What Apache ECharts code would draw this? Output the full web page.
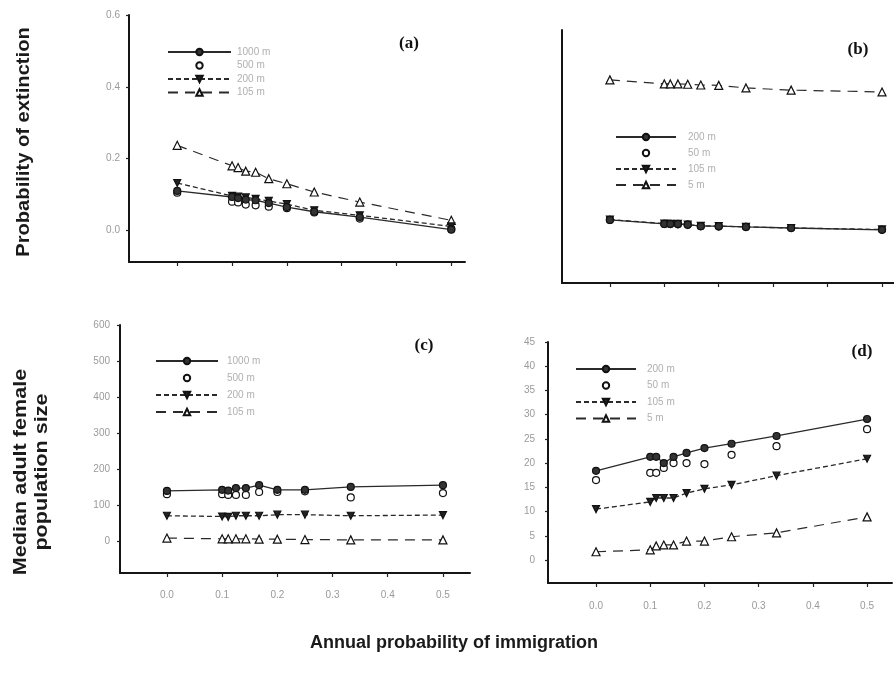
<!DOCTYPE html>
<html>
<head>
<meta charset="utf-8">
<script src="https://cdn.jsdelivr.net/npm/echarts@6/dist/echarts.min.js"></script>
<style>html,body{margin:0;padding:0;background:#fff}#c{width:894px;height:676px}</style>
</head>
<body>
<div id="c"></div>
<script>
// immigration probabilities (x)
const xVals = [0, 0.1, 0.111, 0.125, 0.143, 0.167, 0.2, 0.25, 0.333, 0.5];
const xTicks = [0, 0.1, 0.2, 0.3, 0.4, 0.5];

// (a) probability of extinction
const a1000 = [0.110, 0.093, 0.090, 0.086, 0.084, 0.076, 0.065, 0.052, 0.037, 0.002];
const a500  = [0.105, 0.080, 0.078, 0.072, 0.070, 0.066, 0.062, 0.050, 0.033, 0.004];
const a200  = [0.132, 0.096, 0.094, 0.092, 0.088, 0.082, 0.073, 0.056, 0.042, 0.011];
const a105  = [0.237, 0.180, 0.175, 0.165, 0.162, 0.144, 0.130, 0.107, 0.079, 0.028];
const aTicks = [0, 0.2, 0.4, 0.6];

// (b) probability of extinction
const b200 = [0.082, 0.071, 0.071, 0.071, 0.069, 0.065, 0.065, 0.063, 0.060, 0.055];
const b50  = [0.082, 0.071, 0.071, 0.070, 0.069, 0.065, 0.064, 0.063, 0.060, 0.055];
const b105 = [0.083, 0.072, 0.071, 0.071, 0.069, 0.066, 0.065, 0.063, 0.060, 0.056];
const b5   = [0.464, 0.453, 0.453, 0.453, 0.452, 0.450, 0.449, 0.442, 0.436, 0.431];

// (c) median adult female population size
const c1000 = [139, 142, 140, 147, 147, 155, 142, 142, 150, 155];
const c500  = [130, 130, 128, 128, 128, 136, 136, 138, 121, 133];
const c200  = [70, 68, 67, 70, 70, 70, 73, 73, 70, 72];
const c105  = [8, 6, 6, 6, 6, 5, 5, 4, 3, 3];
const cTicks = [0, 100, 200, 300, 400, 500, 600];

// (d) median adult female population size
const d200 = [18.4, 21.3, 21.3, 20.0, 21.3, 22.1, 23.1, 24.0, 25.6, 29.1];
const d50  = [16.5, 18.0, 18.0, 19.0, 20.0, 20.0, 19.8, 21.7, 23.5, 27.0];
const d105 = [10.5, 12.0, 12.8, 12.8, 12.8, 13.8, 14.7, 15.5, 17.4, 20.9];
const d5   = [1.7, 2.1, 2.9, 3.1, 3.1, 3.9, 3.9, 4.8, 5.6, 8.9];
const dTicks = [0, 5, 10, 15, 20, 25, 30, 35, 40, 45];

const namesAC = ['1000 m', '500 m', '200 m', '105 m'];
const namesBD = ['200 m', '50 m', '105 m', '5 m'];

const TRI_DOWN = 'path://M0,0L10,0L5,9Z';
const styles = [
  {symbol: 'circle', fill: '#333', line: 'solid', lw: 1.3},
  {symbol: 'circle', fill: '#fff', line: 'none', lw: 0},
  {symbol: TRI_DOWN, fill: '#222', line: [5, 3], lw: 1.3},
  {symbol: 'triangle', fill: '#fff', line: [10, 7], lw: 1.2}
];

const panels = [
  {id: 'a', data: [a1000, a500, a200, a105], names: namesAC},
  {id: 'b', data: [b200, b50, b105, b5], names: namesBD},
  {id: 'c', data: [c1000, c500, c200, c105], names: namesAC},
  {id: 'd', data: [d200, d50, d105, d5], names: namesBD}
];

const grids = [
  {left: 129, top: 15, width: 336, height: 247},
  {left: 562, top: 30, width: 332, height: 253},
  {left: 120, top: 325, width: 350, height: 248},
  {left: 548, top: 342, width: 344, height: 241}
];

const axisLineStyle = {color: '#151515', width: 2};
const labelStyle = {color: '#9a9a9a', fontSize: 10, fontFamily: 'Liberation Sans'};

const xAxes = [
  {min: -0.088, max: 0.525, showLabel: false, margin: 16},
  {min: -0.088, max: 0.522, showLabel: false, margin: 16},
  {min: -0.085, max: 0.549, showLabel: true, margin: 17},
  {min: -0.0886, max: 0.546, showLabel: true, margin: 18}
].map((o, i) => ({
  type: 'value', gridIndex: i, min: o.min, max: o.max,
  splitLine: {show: false},
  axisLine: {show: true, onZero: false, lineStyle: axisLineStyle},
  axisTick: {show: true, length: 4, lineStyle: {color: '#222', width: 1.2}, customValues: xTicks},
  axisLabel: Object.assign({show: o.showLabel, margin: o.margin, customValues: xTicks,
    formatter: v => v.toFixed(1)}, labelStyle)
}));

const yAxes = [
  {min: -0.088, max: 0.6, ticks: aTicks, show: true, fmt: v => v.toFixed(1), margin: 9},
  {min: -0.09, max: 0.6, ticks: aTicks, show: false, fmt: v => v.toFixed(1), margin: 9},
  {min: -89, max: 600, ticks: cTicks, show: true, fmt: v => String(v), margin: 10},
  {min: -4.75, max: 45, ticks: dTicks, show: true, fmt: v => String(v), margin: 13}
].map((o, i) => ({
  type: 'value', gridIndex: i, min: o.min, max: o.max,
  splitLine: {show: false},
  axisLine: {show: true, onZero: false, lineStyle: axisLineStyle},
  axisTick: {show: o.show, length: 3, lineStyle: {color: '#222', width: 1.2}, customValues: o.ticks},
  axisLabel: Object.assign({show: o.show, margin: o.margin, customValues: o.ticks, formatter: o.fmt}, labelStyle)
}));

const series = [];
const legends = [];
const labelMap = {};
const legendPos = [
  {left: 162, top: 41, gap: 1.5, w: 63, pad: 1},
  {left: 610, top: 126, gap: 4, w: 60, pad: 7},
  {left: 150, top: 350, gap: 5, w: 62, pad: 4},
  {left: 570, top: 358, gap: 4.5, w: 60, pad: 6}
];
panels.forEach((p, i) => {
  const legendData = [];
  p.data.forEach((vals, k) => {
    const st = styles[k];
    const key = p.id + k;
    labelMap[key] = p.names[k];
    legendData.push(key);
    series.push({
      name: key, type: 'line', xAxisIndex: i, yAxisIndex: i,
      data: xVals.map((x, j) => [x, vals[j]]),
      symbol: st.symbol, symbolSize: k === 3 ? 8 : 7, showAllSymbol: true,
      itemStyle: {color: st.fill, borderColor: '#111', borderWidth: 1.2},
      lineStyle: st.line === 'none' ? {width: 0, opacity: 0} :
        {color: '#2a2a2a', width: st.lw, type: st.line},
      z: 5 - k
    });
  });
  const lp = legendPos[i];
  legends.push({
    data: legendData, orient: 'vertical', left: lp.left, top: lp.top,
    itemWidth: lp.w, itemHeight: 8, itemGap: lp.gap, selectedMode: false,
    formatter: n => labelMap[n],
    textStyle: {color: '#b0b0b0', fontSize: 10, fontFamily: 'Liberation Sans', padding: [0, 0, 0, lp.pad], lineHeight: 12}
  });
});

const yTitleFont = 'bold 18px "Liberation Sans", Arial, sans-serif';
const graphics = [
  {type: 'text', rotation: Math.PI / 2, position: [24, 142], scaleX: 1.12,
   style: {text: 'Probability of extinction', font: yTitleFont, fill: '#1a1a1a', textAlign: 'center', textVerticalAlign: 'middle'}},
  {type: 'text', rotation: Math.PI / 2, position: [21, 472], scaleX: 1.2,
   style: {text: 'Median adult female', font: yTitleFont, fill: '#1a1a1a', textAlign: 'center', textVerticalAlign: 'middle'}},
  {type: 'text', rotation: Math.PI / 2, position: [42, 472], scaleX: 1.2,
   style: {text: 'population size', font: yTitleFont, fill: '#1a1a1a', textAlign: 'center', textVerticalAlign: 'middle'}},
  {type: 'text', position: [454, 643],
   style: {text: 'Annual probability of immigration', font: 'bold 18px "Liberation Sans", Arial, sans-serif', fill: '#1a1a1a', textAlign: 'center', textVerticalAlign: 'middle'}},
  {type: 'text', position: [409, 44], style: {text: '(a)', font: 'bold 17px "Liberation Serif", serif', fill: '#111', textAlign: 'center', textVerticalAlign: 'middle'}},
  {type: 'text', position: [858, 50], style: {text: '(b)', font: 'bold 17px "Liberation Serif", serif', fill: '#111', textAlign: 'center', textVerticalAlign: 'middle'}},
  {type: 'text', position: [424, 346], style: {text: '(c)', font: 'bold 17px "Liberation Serif", serif', fill: '#111', textAlign: 'center', textVerticalAlign: 'middle'}},
  {type: 'text', position: [862, 352], style: {text: '(d)', font: 'bold 17px "Liberation Serif", serif', fill: '#111', textAlign: 'center', textVerticalAlign: 'middle'}}
];

const chart = echarts.init(document.getElementById('c'), null, {renderer: 'canvas'});
chart.setOption({
  animation: false,
  backgroundColor: '#fff',
  grid: grids,
  xAxis: xAxes,
  yAxis: yAxes,
  legend: legends,
  series: series,
  graphic: graphics
});
</script>
</body>
</html>
